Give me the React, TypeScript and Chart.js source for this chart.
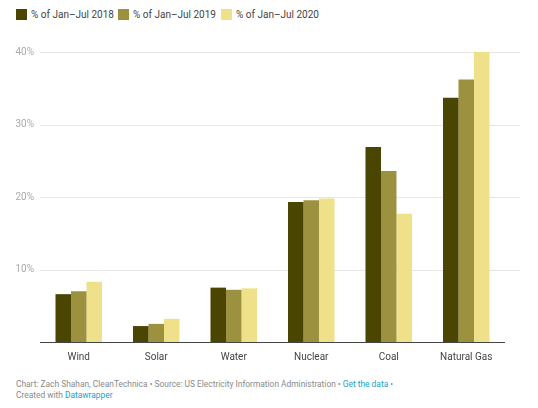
import React, { useEffect, useRef } from "react";
import { Chart, registerables } from "chart.js";

Chart.register(...registerables);

const categories = ["Wind", "Solar", "Water", "Nuclear", "Coal", "Natural Gas"];
const seriesLabels = ["% of Jan–Jul 2018", "% of Jan–Jul 2019", "% of Jan–Jul 2020"];
const values2018 = [6.6, 2.2, 7.5, 19.3, 26.9, 33.7];
const values2019 = [7.0, 2.5, 7.2, 19.55, 23.6, 36.2];
const values2020 = [8.3, 3.2, 7.4, 19.8, 17.7, 40.0];
const seriesColors = ["#4a4500", "#9c913f", "#efe08a"];
const yTicks = [0, 10, 20, 30, 40];

const FONT = "Roboto, 'Noto Sans', sans-serif";

const gridPlugin = {
  id: "dwGrid",
  beforeDatasetsDraw(chart: any) {
    const { ctx, chartArea } = chart;
    const y = chart.scales.y;
    ctx.save();
    yTicks.forEach((t) => {
      if (t === 0) return;
      const py = Math.round(y.getPixelForValue(t)) + 0.5;
      ctx.beginPath();
      ctx.strokeStyle = "#e6e6e6";
      ctx.lineWidth = 1;
      ctx.moveTo(chartArea.left, py);
      ctx.lineTo(chartArea.right + 15, py);
      ctx.stroke();
    });
    ctx.restore();
  },
  afterDatasetsDraw(chart: any) {
    const { ctx, chartArea } = chart;
    const y = chart.scales.y;
    const py = Math.round(y.getPixelForValue(0)) + 0.5;
    ctx.save();
    ctx.strokeStyle = "#444444";
    ctx.lineWidth = 1;
    ctx.beginPath();
    ctx.moveTo(chartArea.left, py);
    ctx.lineTo(chartArea.right, py);
    ctx.stroke();
    ctx.restore();
  },
};

export default function App() {
  const canvasRef = useRef<HTMLCanvasElement | null>(null);

  useEffect(() => {
    if (!canvasRef.current) return;
    const chart = new Chart(canvasRef.current, {
      type: "bar",
      data: {
        labels: categories,
        datasets: [values2018, values2019, values2020].map((d, i) => ({
          label: seriesLabels[i],
          data: d,
          backgroundColor: seriesColors[i],
          borderWidth: 0,
          categoryPercentage: 0.6,
          barPercentage: 1.0,
        })),
      },
      options: {
        animation: false,
        responsive: false,
        maintainAspectRatio: false,
        layout: { padding: { top: 52, right: 33, left: 0, bottom: 0 } },
        plugins: {
          legend: { display: false },
          tooltip: { enabled: false },
        },
        scales: {
          x: {
            grid: { display: false, drawTicks: false },
            border: { display: false },
            ticks: {
              color: "#444444",
              font: { family: FONT, size: 10 },
              padding: 9,
            },
            afterFit: (scale: any) => {
              scale.height = 30;
            },
          },
          y: {
            min: 0,
            max: 40,
            afterBuildTicks: (scale: any) => {
              scale.ticks = yTicks.map((v) => ({ value: v }));
            },
            grid: { display: false, drawTicks: false },
            border: { display: false },
            ticks: {
              color: "#aaaaaa",
              font: { family: FONT, size: 10 },
              padding: 6,
              callback: (v: any) => (Number(v) === 0 ? "" : v + "%"),
            },
            afterFit: (scale: any) => {
              scale.width = 40;
            },
          },
        },
      },
      plugins: [gridPlugin],
    });
    return () => chart.destroy();
  }, []);

  const legendItem = (i: number, left: number) => (
    <div
      key={i}
      style={{
        position: "absolute",
        left,
        top: 9,
        height: 11,
        display: "flex",
        alignItems: "center",
        fontFamily: FONT,
        fontSize: 10,
        color: "#444444",
        whiteSpace: "nowrap",
      }}
    >
      <span
        style={{
          display: "inline-block",
          width: 11,
          height: 11,
          background: seriesColors[i],
          marginRight: 4,
        }}
      />
      <span>{seriesLabels[i]}</span>
    </div>
  );

  return (
    <div
      style={{
        position: "fixed",
        left: 0,
        top: 0,
        width: 538,
        height: 408,
        background: "#ffffff",
        overflow: "hidden",
      }}
    >
      {legendItem(0, 16)}
      {legendItem(1, 118)}
      {legendItem(2, 221)}
      <canvas
        ref={canvasRef}
        width={538}
        height={372}
        style={{ position: "absolute", left: 0, top: 0, width: 538, height: 372 }}
      />
      <div
        style={{
          position: "absolute",
          left: 16,
          top: 379,
          fontFamily: FONT,
          fontSize: 8.4,
          lineHeight: "11px",
          color: "#8a8a8a",
          whiteSpace: "nowrap",
        }}
      >
        <div>
          Chart: Zach Shahan, CleanTechnica • Source: US Electricity Information Administration •{" "}
          <span style={{ color: "#18a1cd" }}>Get the data</span> •
        </div>
        <div>
          Created with <span style={{ color: "#18a1cd" }}>Datawrapper</span>
        </div>
      </div>
    </div>
  );
}
